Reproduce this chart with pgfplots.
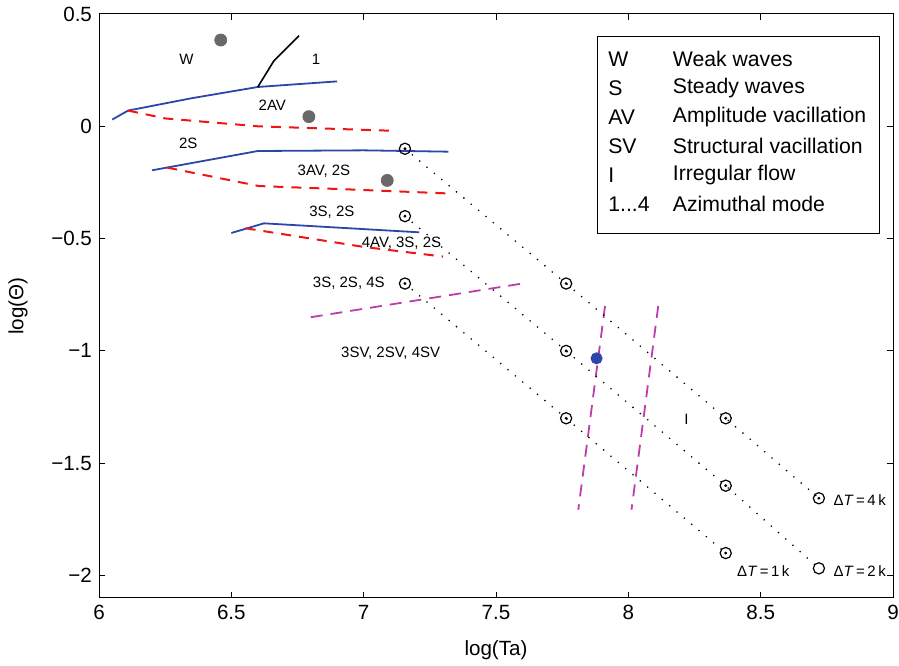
\documentclass[border=0pt]{standalone}
\usepackage{pgfplots}
\pgfplotsset{compat=1.18}
\usepackage{fontspec}
\setmainfont{Liberation Sans}

\definecolor{lblue}{RGB}{45,70,170}
\definecolor{lred}{RGB}{240,20,20}
\definecolor{lmag}{RGB}{190,60,170}
\definecolor{dotgray}{RGB}{105,105,105}

\begin{document}
\begin{tikzpicture}
\begin{axis}[name=ax, scale only axis, width=397pt, height=292pt,
  xmin=6, xmax=9, ymin=-2.1, ymax=0.5,
  xtick={6,6.5,7,7.5,8,8.5,9}, xticklabels={6,6.5,7,7.5,8,8.5,9},
  ytick={-2,-1.5,-1,-0.5,0,0.5}, yticklabels={−2,−1.5,−1,−0.5,0,0.5},
  tick label style={font=\fontsize{10.3}{12}\selectfont},
  xlabel={log(Ta)}, ylabel={log(Θ)},
  every axis x label/.style={at={(axis description cs:0.5,0)}, yshift=-26pt, anchor=center, font=\fontsize{10.3}{12}\selectfont},
  every axis y label/.style={at={(axis description cs:0,0.5)}, xshift=-40.5pt, rotate=90, anchor=center, font=\fontsize{10.3}{12}\selectfont},
  tick align=inside, major tick length=3pt,
  axis line style={black, line width=0.5pt},
  every tick/.style={black, line width=0.5pt},
  clip=false]
% regime boundaries
\addplot[lblue, line width=0.9pt] coordinates {(6.05,0.03) (6.11,0.07) (6.35,0.125) (6.6,0.175) (6.9,0.20)};
\addplot[black, line width=0.8pt] coordinates {(6.6,0.175) (6.66,0.29) (6.756,0.403)};
\addplot[lred, line width=1pt, dash pattern=on 5pt off 4pt] coordinates {(6.11,0.07) (6.25,0.035) (6.6,0.0) (7.11,-0.02)};
\addplot[lblue, line width=0.9pt] coordinates {(6.2,-0.196) (6.6,-0.11) (7.0,-0.107) (7.32,-0.113)};
\addplot[lred, line width=1pt, dash pattern=on 5pt off 4pt] coordinates {(6.258,-0.184) (6.604,-0.266) (6.944,-0.281) (7.32,-0.299)};
\addplot[lblue, line width=0.9pt] coordinates {(6.5,-0.475) (6.623,-0.432) (7.21,-0.472)};
\addplot[lred, line width=1pt, dash pattern=on 5pt off 4pt] coordinates {(6.554,-0.454) (7.0,-0.537) (7.3,-0.58)};
\addplot[lmag, line width=0.9pt, dash pattern=on 6pt off 4pt] coordinates {(6.8,-0.85) (7.6,-0.70)};
\addplot[lmag, line width=0.9pt, dash pattern=on 6pt off 4pt] coordinates {(7.912,-0.80) (7.811,-1.707)};
\addplot[lmag, line width=0.9pt, dash pattern=on 6pt off 4pt] coordinates {(8.113,-0.80) (8.012,-1.707)};
% delta T series
\addplot[black, line width=0.9pt, line cap=round, dash pattern=on 0pt off 4.8pt, mark=o, mark size=2.8pt, mark options={solid, line width=0.6pt}] coordinates {(7.156,-0.1) (7.765,-0.7) (8.368,-1.3) (8.72,-1.656)};
\addplot[black, line width=0.9pt, line cap=round, dash pattern=on 0pt off 4.8pt, mark=o, mark size=2.8pt, mark options={solid, line width=0.6pt}] coordinates {(7.156,-0.4) (7.765,-1.0) (8.368,-1.6) (8.72,-1.968)};
\addplot[black, line width=0.9pt, line cap=round, dash pattern=on 0pt off 4.8pt, mark=o, mark size=2.8pt, mark options={solid, line width=0.6pt}] coordinates {(7.156,-0.7) (7.765,-1.3) (8.368,-1.9)};
\addplot[only marks, mark=*, mark size=0.5pt, black] coordinates {(7.156,-0.1) (7.765,-0.7) (8.368,-1.3) (8.72,-1.656) (7.156,-0.4) (7.765,-1.0) (8.368,-1.6) (7.156,-0.7) (7.765,-1.3) (8.368,-1.9)};
% observed points
\addplot[only marks, mark=*, mark size=3pt, dotgray] coordinates {(6.46,0.384) (6.793,0.043) (7.089,-0.241)};
\addplot[only marks, mark=*, mark size=2.8pt, lblue] coordinates {(7.88,-1.033)};
% region labels
\begin{scope}[every node/.style={font=\fontsize{7.5}{9}\selectfont, inner sep=0pt}]
\node at (axis cs:6.33,0.30) {W};
\node at (axis cs:6.82,0.30) {1};
\node at (axis cs:6.655,0.095) {2AV};
\node at (axis cs:6.337,-0.076) {2S};
\node at (axis cs:6.85,-0.20) {3AV, 2S};
\node at (axis cs:6.88,-0.383) {3S, 2S};
\node at (axis cs:7.143,-0.522) {4AV, 3S, 2S};
\node at (axis cs:6.944,-0.70) {3S, 2S, 4S};
\node at (axis cs:7.102,-1.012) {3SV, 2SV, 4SV};
\node at (axis cs:8.22,-1.305) {I};
\node[anchor=west] at (axis cs:8.774,-1.662) {Δ\textit{T}\,=\,4\,k};
\node[anchor=west] at (axis cs:8.774,-1.98) {Δ\textit{T}\,=\,2\,k};
\node[anchor=west] at (axis cs:8.41,-1.98) {Δ\textit{T}\,=\,1\,k};
\end{scope}
% key box
\node[draw=black, line width=0.5pt, anchor=north west, inner sep=0pt, minimum width=141pt, minimum height=98.5pt] at (axis cs:7.881,0.402) {};
\begin{scope}[every node/.style={font=\fontsize{10.6}{12}\selectfont, inner sep=0pt, anchor=west}]
\node at (axis cs:7.923,0.298) {W};     \node at (axis cs:8.167,0.298) {Weak waves};
\node at (axis cs:7.923,0.171) {S};     \node at (axis cs:8.167,0.171) {Steady waves};
\node at (axis cs:7.923,0.042) {AV};    \node at (axis cs:8.167,0.042) {Amplitude vacillation};
\node at (axis cs:7.923,-0.089) {SV};   \node at (axis cs:8.167,-0.089) {Structural vacillation};
\node at (axis cs:7.923,-0.218) {I};    \node at (axis cs:8.167,-0.218) {Irregular flow};
\node at (axis cs:7.923,-0.345) {1...4};\node at (axis cs:8.167,-0.345) {Azimuthal mode};
\end{scope}
\end{axis}
\pgfresetboundingbox
\path[use as bounding box] ([xshift=-49.5pt,yshift=-34pt]ax.south west) rectangle ([xshift=3pt,yshift=7pt]ax.north east);
\end{tikzpicture}
\end{document}
